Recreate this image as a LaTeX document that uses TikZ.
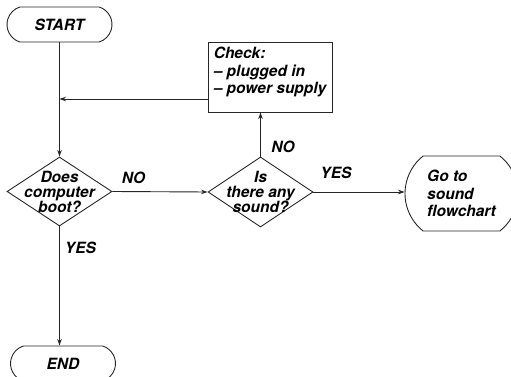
\documentclass[tikz,border=0pt]{standalone}
\usepackage{fontspec}
\setmainfont{TeX Gyre Heros}
\usetikzlibrary{shapes.geometric,shapes.misc,arrows.meta}
\begin{document}
\begin{tikzpicture}[x=1pt,y=-1pt,
  every node/.style={font=\fontsize{15.5}{17.5}\selectfont\bfseries\itshape, text=black},
  line/.style={draw=black!85, line width=0.9pt},
  arr/.style={line, -{Stealth[length=6.5pt,width=4.5pt]}},
  terminal/.style={line, rounded rectangle, rounded rectangle arc length=145,
    minimum width=105, minimum height=35, inner sep=0pt},
  decision/.style={line, diamond, minimum width=105, minimum height=69, inner sep=0pt},
  dtext/.style={align=center, font=\fontsize{15.5}{15}\selectfont\bfseries\itshape},
  btext/.style={align=left, yshift=5pt},
  process/.style={line, rectangle, minimum width=124, minimum height=70, inner sep=0pt}
]
\useasboundingbox (0,0) rectangle (511,377);

% terminals
\node[terminal] (start) at (59.5,24.5) {START};
\node[terminal] (end) at (63,363.5) {END};
\node[terminal, rounded rectangle arc length=103, minimum width=113,
      minimum height=75, align=left] (goto) at (461.5,193.5) {Go to\\sound\\flowchart};

% decisions
\node[decision, label={[dtext]center:{Does\\computer\\boot?}}] (boot) at (59.5,191.5) {};
\node[decision, minimum height=70, label={[dtext]center:{Is\\there any\\sound?}}] (sound) at (260.5,192) {};

% remedy box
\node[process, label={[btext]center:{Check:\\– plugged in\\– power supply}}] (check) at (270,77) {};

% return junction on the main line
\coordinate (join) at (59.5,99);

% connectors
\draw[arr] (start.south) -- (boot.north);
\draw[arr] (check.west |- join) -- (join);
\draw[arr] (boot.east) -- (sound.west);
\draw[arr] (sound.north) -- (sound.north |- check.south);
\draw[arr] (sound.east) -- (sound.east -| goto.west);
\draw[arr] (boot.south) -- (boot.south |- end.north);

% branch labels
\node (no1) at (133.5,178) {NO};
\node (no2) at (283,147) {NO};
\node (yes2) at (336,173) {YES};
\node (yes1) at (80.5,248) {YES};
\end{tikzpicture}
\end{document}
